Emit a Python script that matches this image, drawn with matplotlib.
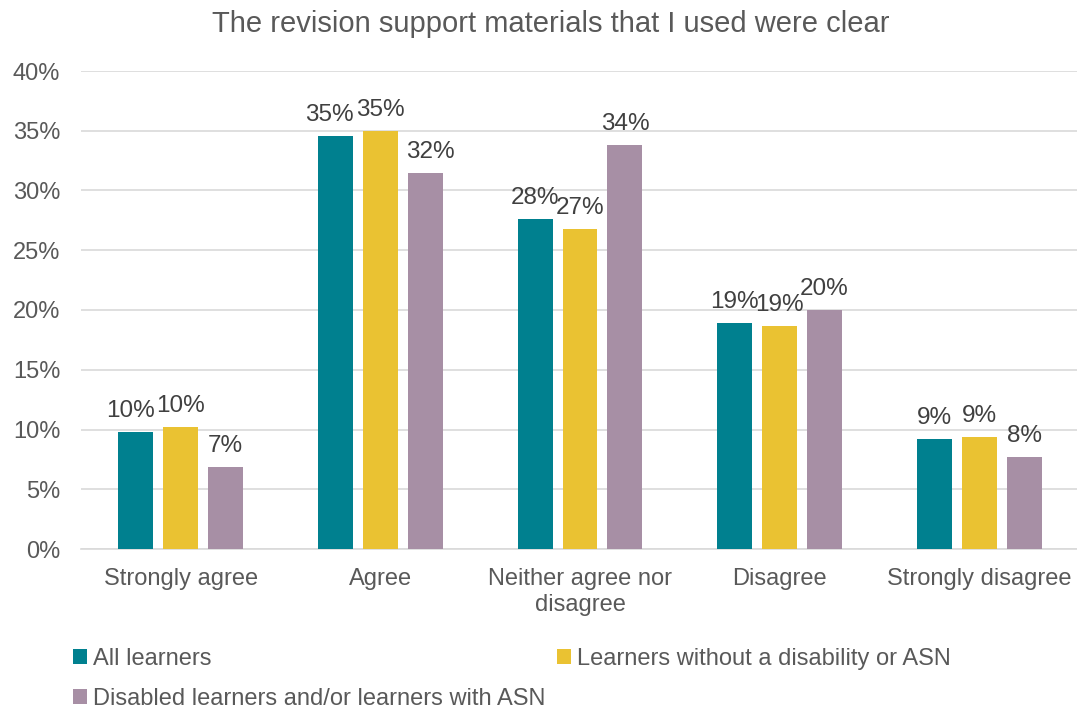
import matplotlib
matplotlib.use("Agg")
import matplotlib.pyplot as plt
import numpy as np
from matplotlib.patches import Patch

plt.rcParams['font.family'] = ['Liberation Sans', 'DejaVu Sans']

categories = ["Strongly agree", "Agree", "Neither agree nor\ndisagree", "Disagree", "Strongly disagree"]
series_names = ["All learners", "Learners without a disability or ASN", "Disabled learners and/or learners with ASN"]
all_learners = [9.8, 34.6, 27.6, 18.9, 9.2]
without_disability = [10.2, 35.0, 26.8, 18.7, 9.4]
disabled_asn = [6.9, 31.5, 33.8, 20.0, 7.7]
colors = ["#00808F", "#EAC232", "#A78FA5"]
yticks = [0, 5, 10, 15, 20, 25, 30, 35, 40]

# small horizontal nudges (px) of data labels, as in the original layout
label_nudge = {(0, 0): -5, (0, 1): -6, (2, 1): 5}

text_color = "#595959"
label_color = "#404040"
fig = plt.figure(figsize=(10.77, 7.13), dpi=100)
ax = fig.add_axes([81/1077, 1 - 549/713, 998/1077, (549-71)/713])

x = np.arange(len(categories))
width = 0.175
step = 0.225
for i, (vals, c) in enumerate(zip([all_learners, without_disability, disabled_asn], colors)):
    pos = x + (i - 1) * step
    bars = ax.bar(pos, vals, width, color=c, zorder=3)
    for j, (b, v) in enumerate(zip(bars, vals)):
        dx = label_nudge.get((i, j), 0) * 0.72
        ax.annotate(f"{v:.0f}%", (b.get_x() + b.get_width()/2, v), xytext=(dx, 7),
                    textcoords="offset points", ha="center", va="bottom",
                    fontsize=17.5, color=label_color)

ax.set_xlim(-0.5, len(categories) - 0.5)
ax.set_ylim(0, 40)
ax.set_yticks(yticks)
ax.set_yticklabels([f"{t}%" for t in yticks], fontsize=17, color=text_color)
ax.set_xticks(x)
ax.set_xticklabels(categories, fontsize=17, color=text_color, linespacing=1.2)
ax.tick_params(axis='both', length=0)
ax.tick_params(axis='y', pad=15)
ax.tick_params(axis='x', pad=14)
ax.yaxis.grid(True, color="#D9D9D9", linewidth=1.2, zorder=0)
for s in ["top", "right", "left"]:
    ax.spines[s].set_visible(False)
ax.spines["bottom"].set_color("#D9D9D9")
ax.spines["bottom"].set_linewidth(1.2)

fig.text(551/1077, 1 - 24/713, "The revision support materials that I used were clear",
         ha="center", va="center", fontsize=21, color=text_color)

positions = [(73, 659), (557, 659), (73, 699)]
for h_c, name, (px, py) in zip(colors, series_names, positions):
    fig.legend([Patch(facecolor=h_c, edgecolor='none')], [name],
               loc="center left", bbox_to_anchor=(px/1077, 1 - py/713),
               frameon=False, fontsize=17, handlelength=0.6, handleheight=0.6,
               handletextpad=0.25, borderaxespad=0, borderpad=0,
               labelcolor=text_color)

fig.savefig("out.png", dpi=100)
